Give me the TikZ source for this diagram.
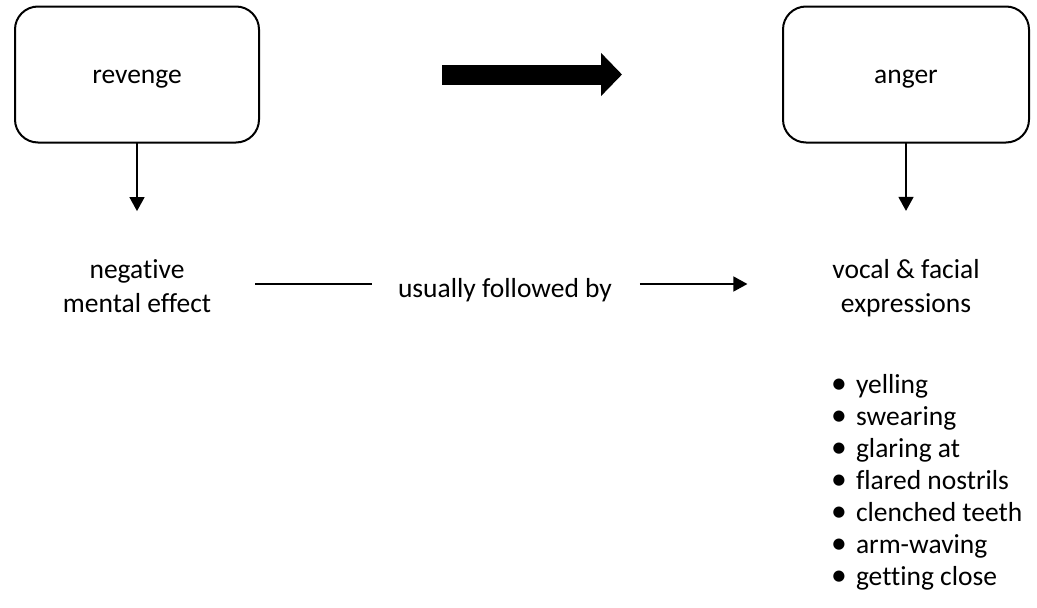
\documentclass[tikz,border=0pt]{standalone}
\usepackage{fontspec}
\setmainfont{Carlito}[Ligatures=NoCommon]
\usepackage{tikz}
\usetikzlibrary{arrows.meta}

\begin{document}
\begin{tikzpicture}[x=1pt,y=1pt,
    every node/.style={font=\fontsize{27.5}{34}\selectfont, inner sep=0pt, outer sep=0pt},
    box/.style={draw, line width=2pt, rounded corners=23pt, minimum height=136pt, text height=22pt, text depth=5pt},
    thinarrow/.style={line width=1.5pt, -{Triangle[length=14pt,width=15pt]}}]
\useasboundingbox (0,0) rectangle (1037,-608);

\node[box, minimum width=244pt] (revenge) at (137,-74.5) {revenge};
\node[box, minimum width=246pt] (anger) at (906,-74.5) {anger};
\draw[line width=20pt, -{Triangle[length=21pt,width=42pt]}, shorten <=183pt, shorten >=161pt] (revenge) -- (anger);

\node[align=center, anchor=base] (neg) at (137,-312) {negative\\mental effect};
\node[anchor=base] (follow) at (505,-297) {usually followed by};
\node[align=center, anchor=base] (vocal) at (906,-312) {vocal \& facial\\expressions};

\draw[thinarrow, shorten >=48pt] (revenge) -- (neg);
\draw[thinarrow, shorten >=48pt] (anger) -- (vocal);
\draw[line width=1.5pt, shorten <=44pt, shorten >=26pt] ([yshift=28pt]neg.base east) -- ([yshift=13pt]follow.base west);
\draw[thinarrow, shorten <=28pt, shorten >=85pt] ([yshift=13pt]follow.base east) -- ([yshift=28pt]vocal.base west);

\foreach \word [count=\j] in {yelling,swearing,glaring at,flared nostrils,clenched teeth,arm-waving,getting close} {
    \node[anchor=base west] (item\j) at (831,-393-32*\j+32) {\makebox[25pt][l]{\scalebox{1.15}{\textbullet}}\word};
}
\end{tikzpicture}
\end{document}
